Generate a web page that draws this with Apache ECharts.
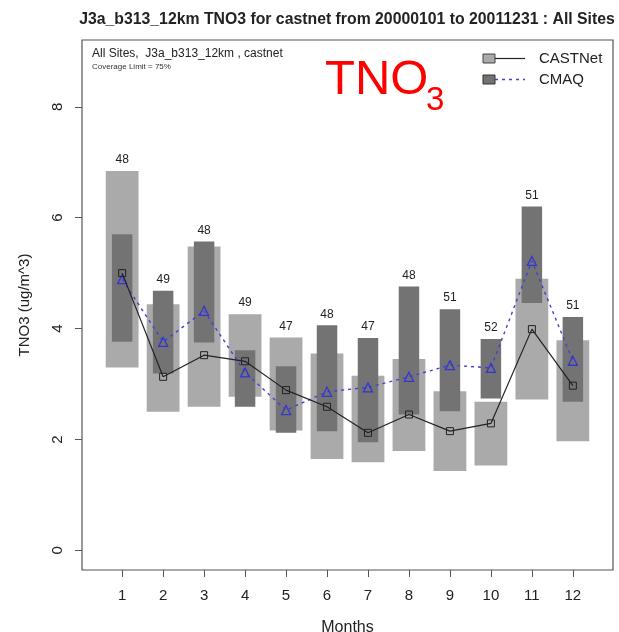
<!DOCTYPE html>
<html>
<head>
<meta charset="utf-8">
<script src="https://cdn.jsdelivr.net/npm/echarts@6/dist/echarts.min.js"></script>
<style>html,body{margin:0;padding:0;background:#fff}#c{width:619px;height:632px}</style>
</head>
<body>
<div id="c"></div>
<script>
const months = [1,2,3,4,5,6,7,8,9,10,11,12];
const counts = [48,49,48,49,47,48,47,48,51,52,51,51];
const castLow  = [3.30,2.50,2.59,2.77,2.16,1.65,1.59,1.79,1.43,1.53,2.72,1.97];
const castHigh = [6.84,4.44,5.48,4.26,3.84,3.55,3.15,3.45,2.87,2.68,4.90,3.79];
const cmaqLow  = [3.76,3.19,3.75,2.59,2.12,2.15,1.95,2.45,2.51,2.74,4.46,2.68];
const cmaqHigh = [5.70,4.68,5.57,3.61,3.32,4.06,3.83,4.76,4.35,3.81,6.20,4.21];
const castMean = [5.00,3.13,3.52,3.41,2.89,2.59,2.12,2.45,2.15,2.29,3.99,2.97];
const cmaqMean = [4.89,3.76,4.32,3.21,2.53,2.86,2.94,3.13,3.34,3.29,5.22,3.42];
const yTicks = [0,2,4,6,8];

const FONT = 'Liberation Sans, Arial, Helvetica, sans-serif';
const chart = echarts.init(document.getElementById('c'), null, {renderer:'canvas'});

function boxRender(width, fill) {
  return function(params, api) {
    const x = api.value(0), lo = api.value(1), hi = api.value(2);
    const p1 = api.coord([x, hi]);
    const p2 = api.coord([x, lo]);
    const w = api.size([width, 0])[0];
    return {
      type: 'rect',
      shape: {x: p1[0] - w/2, y: p1[1], width: w, height: p2[1] - p1[1]},
      style: {fill: fill}
    };
  };
}

const castBoxData = months.map((m,i)=>[m, castLow[i], castHigh[i]]);
const cmaqBoxData = months.map((m,i)=>[m, cmaqLow[i], cmaqHigh[i]]);
const countData = months.map((m,i)=>[m, Math.max(castHigh[i], cmaqHigh[i]), counts[i]]);

const option = {
  animation: false,
  backgroundColor: '#fff',
  title: {
    text: 'J3a_b313_12km TNO3 for castnet from 20000101 to 20011231 : All Sites',
    left: 342, top: 7, textAlign: 'center',
    textStyle: {fontFamily: FONT, fontSize: 15.8, fontWeight: 'bold', color: '#222'}
  },
  grid: {left: 82, right: 6, top: 40, bottom: 62, show: true, borderColor: '#555', borderWidth: 1.2, backgroundColor: 'transparent', outerBoundsMode: 'none', containLabel: false},
  xAxis: {
    type: 'value', min: 0.02, max: 12.98,
    name: 'Months', nameLocation: 'middle', nameGap: 50,
    nameTextStyle: {fontFamily: FONT, fontSize: 16, color: '#222'},
    axisLine: {show: false, onZero: false},
    splitLine: {show: false},
    axisTick: {show: true, inside: false, length: 7, lineStyle: {color: '#555'}, customValues: months},
    axisLabel: {fontFamily: FONT, fontSize: 15, color: '#222', margin: 18, customValues: months}
  },
  yAxis: {
    type: 'value', min: -0.354, max: 9.204,
    name: 'TNO3 (ug/m^3)', nameLocation: 'middle', nameGap: 50, nameRotate: 90,
    nameTextStyle: {fontFamily: FONT, fontSize: 15, color: '#222'},
    axisLine: {show: false, onZero: false},
    splitLine: {show: false},
    axisTick: {show: true, inside: false, length: 7, lineStyle: {color: '#555'}, customValues: yTicks},
    axisLabel: {fontFamily: FONT, fontSize: 15, color: '#222', rotate: 90, margin: 17, customValues: yTicks}
  },
  series: [
    {type: 'custom', name: 'CASTNet box', data: castBoxData, renderItem: boxRender(0.8, '#aaaaaa'), z: 1},
    {type: 'custom', name: 'CMAQ box', data: cmaqBoxData, renderItem: boxRender(0.5, '#737373'), z: 2},
    {type: 'custom', name: 'counts', data: countData, z: 3,
      renderItem: function(params, api) {
        const p = api.coord([api.value(0), api.value(1)]);
        return {type: 'text', x: p[0], y: p[1] - 11,
          style: {text: String(api.value(2)), fill: '#222', font: '12px ' + FONT, textAlign: 'center', textVerticalAlign: 'middle'}};
      }
    },
    {type: 'line', name: 'CASTNet', data: months.map((m,i)=>[m, castMean[i]]), z: 5,
      symbol: 'rect', symbolSize: 7, showAllSymbol: true,
      lineStyle: {color: '#222', width: 1.2},
      itemStyle: {color: 'rgba(0,0,0,0)', borderColor: '#222', borderWidth: 1}
    },
    {type: 'line', name: 'CMAQ', data: months.map((m,i)=>[m, cmaqMean[i]]), z: 4,
      symbol: 'triangle', symbolSize: 9, showAllSymbol: true,
      lineStyle: {color: '#4040d8', width: 1.4, type: [3, 4]},
      itemStyle: {color: 'rgba(0,0,0,0)', borderColor: '#3535d0', borderWidth: 1.3}
    }
  ],
  graphic: [
    {type: 'text', left: 92, top: 48, style: {text: 'All Sites,  J3a_b313_12km , castnet', font: '12px ' + FONT, fill: '#222'}},
    {type: 'text', left: 92, top: 63, style: {text: 'Coverage Limit = 75%', font: '8px ' + FONT, fill: '#333'}},
    {type: 'text', left: 325, top: 56, style: {text: 'TNO', font: '49px ' + FONT, fill: '#ff0000'}},
    {type: 'text', left: 426, top: 84, style: {text: '3', font: '33px ' + FONT, fill: '#ff0000'}},
    {type: 'rect', shape: {x: 483, y: 54, width: 12, height: 9}, style: {fill: '#aaaaaa', stroke: '#444', lineWidth: 1}},
    {type: 'line', shape: {x1: 495, y1: 58.5, x2: 525, y2: 58.5}, style: {stroke: '#222', lineWidth: 1.2}},
    {type: 'text', left: 539, top: 51, style: {text: 'CASTNet', font: '15px ' + FONT, fill: '#222'}},
    {type: 'rect', shape: {x: 483, y: 75, width: 12, height: 9}, style: {fill: '#737373', stroke: '#333', lineWidth: 1}},
    {type: 'line', shape: {x1: 495, y1: 79.5, x2: 525, y2: 79.5}, style: {stroke: '#4040d8', lineWidth: 1.4, lineDash: [3, 4]}},
    {type: 'text', left: 539, top: 72, style: {text: 'CMAQ', font: '15px ' + FONT, fill: '#222'}}
  ]
};
chart.setOption(option);
</script>
</body>
</html>
